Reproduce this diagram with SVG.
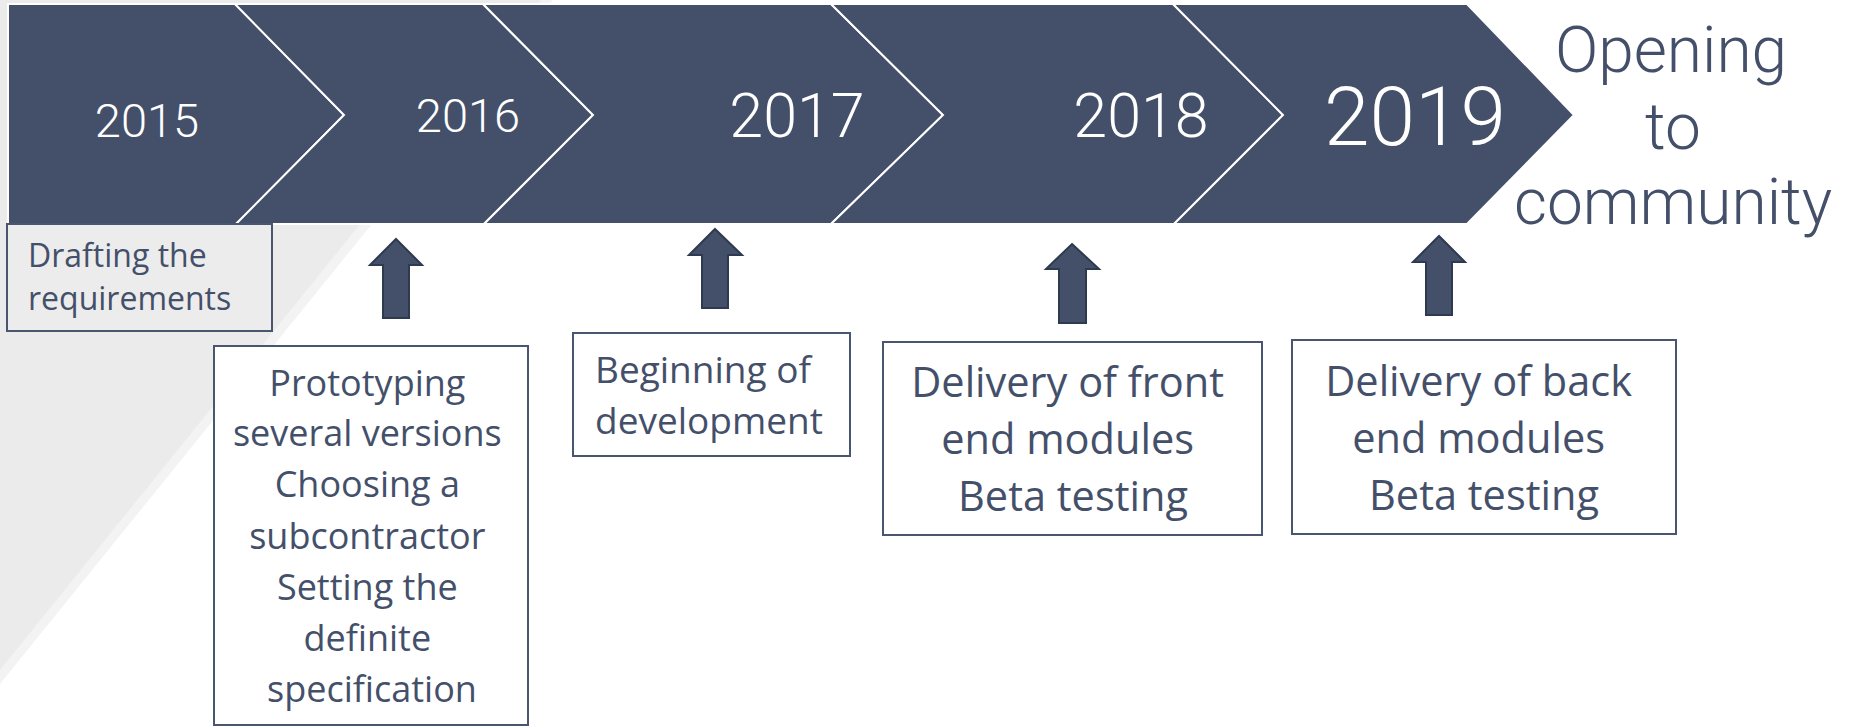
<svg xmlns="http://www.w3.org/2000/svg" width="1849" height="728" viewBox="0 0 1849 728">
<style>
.seg{fill:#44506a;stroke:#ffffff;stroke-width:2;stroke-linejoin:miter}
.yr{font-family:Roboto,"Liberation Sans",sans-serif;font-weight:300;fill:#ffffff;text-anchor:middle}
.box{fill:#ffffff;stroke:#4a5670;stroke-width:2}
.bt{font-family:"Open Sans","Noto Sans","Liberation Sans",sans-serif;fill:#44506a}
.ctr{text-anchor:middle}
.arr{fill:#44506a;stroke:#2e3a4e;stroke-width:2;stroke-linejoin:miter}
.end{font-family:Roboto,"Liberation Sans",sans-serif;font-weight:300;fill:#44506a;text-anchor:middle;font-size:64px}
</style>
<rect width="1849" height="728" fill="#ffffff"/>
<g id="background">
<polygon points="0,0 553,0 0,684" fill="#f3f3f3"/>
<polygon points="0,0 541,0 0,670" fill="#ebebeb"/>
</g>
<g id="timeline">
<g id="seg-2015">
<polygon class="seg" points="8,4 235,4 344,115 236,224 8,224"/>
<text class="yr" x="147" y="137" font-size="47">2015</text>
</g>
<g id="seg-2016">
<polygon class="seg" points="235,4 483,4 593,115 484,224 236,224 344,115"/>
<text class="yr" x="468" y="132" font-size="47">2016</text>
</g>
<g id="seg-2017">
<polygon class="seg" points="483,4 831,4 943,115 831,224 484,224 593,115"/>
<text class="yr" x="797" y="137" font-size="61">2017</text>
</g>
<g id="seg-2018">
<polygon class="seg" points="831,4 1173,4 1283,115 1174,224 831,224 943,115"/>
<text class="yr" x="1141" y="137" font-size="61">2018</text>
</g>
<g id="seg-2019">
<polygon class="seg" points="1173,4 1467,4 1574,115 1467,224 1174,224 1283,115"/>
<text class="yr" x="1415" y="145" font-size="82">2019</text>
</g>
</g>
<g id="opening">
<text class="end" x="1671" y="72">Opening</text>
<text class="end" x="1673" y="149">to</text>
<text class="end" x="1673" y="224">community</text>
</g>
<g id="connectors">
<polygon class="arr" points="396,239 422,265 409,265 409,318 383,318 383,265 370,265"/>
<polygon class="arr" points="715,229 742,255 728,255 728,308 702,308 702,255 689,255"/>
<polygon class="arr" points="1072,244 1099,269 1086,269 1086,323 1059,323 1059,269 1046,269"/>
<polygon class="arr" points="1439,236 1465,262 1452,262 1452,315 1426,315 1426,262 1413,262"/>
</g>
<g id="box-drafting">
<rect class="box" x="7" y="224" width="265" height="107" style="fill:#ececec"/>
<text class="bt" x="28" y="267" font-size="32">Drafting the</text>
<text class="bt" x="28" y="310" font-size="32">requirements</text>
</g>
<g id="box-prototyping">
<rect class="box" x="214" y="346" width="314" height="379"/>
<text class="bt ctr" font-size="36">
<tspan x="372" y="396">Prototyping</tspan>
<tspan x="372" y="446">several versions</tspan>
<tspan x="372" y="497">Choosing a</tspan>
<tspan x="372" y="549">subcontractor</tspan>
<tspan x="372" y="600">Setting the</tspan>
<tspan x="372" y="651">definite</tspan>
<tspan x="372" y="702">specification</tspan>
</text>
</g>
<g id="box-beginning">
<rect class="box" x="573" y="333" width="277" height="123"/>
<text class="bt" font-size="37">
<tspan x="595" y="383">Beginning of</tspan>
<tspan x="595" y="434">development</tspan>
</text>
</g>
<g id="box-front">
<rect class="box" x="883" y="342" width="379" height="193"/>
<text class="bt ctr" font-size="41.5">
<tspan x="1073" y="397">Delivery of front</tspan>
<tspan x="1073" y="454">end modules</tspan>
<tspan x="1073" y="511">Beta testing</tspan>
</text>
</g>
<g id="box-back">
<rect class="box" x="1292" y="340" width="384" height="194"/>
<text class="bt ctr" font-size="41.5">
<tspan x="1484" y="396">Delivery of back</tspan>
<tspan x="1484" y="453">end modules</tspan>
<tspan x="1484" y="510">Beta testing</tspan>
</text>
</g>
</svg>
